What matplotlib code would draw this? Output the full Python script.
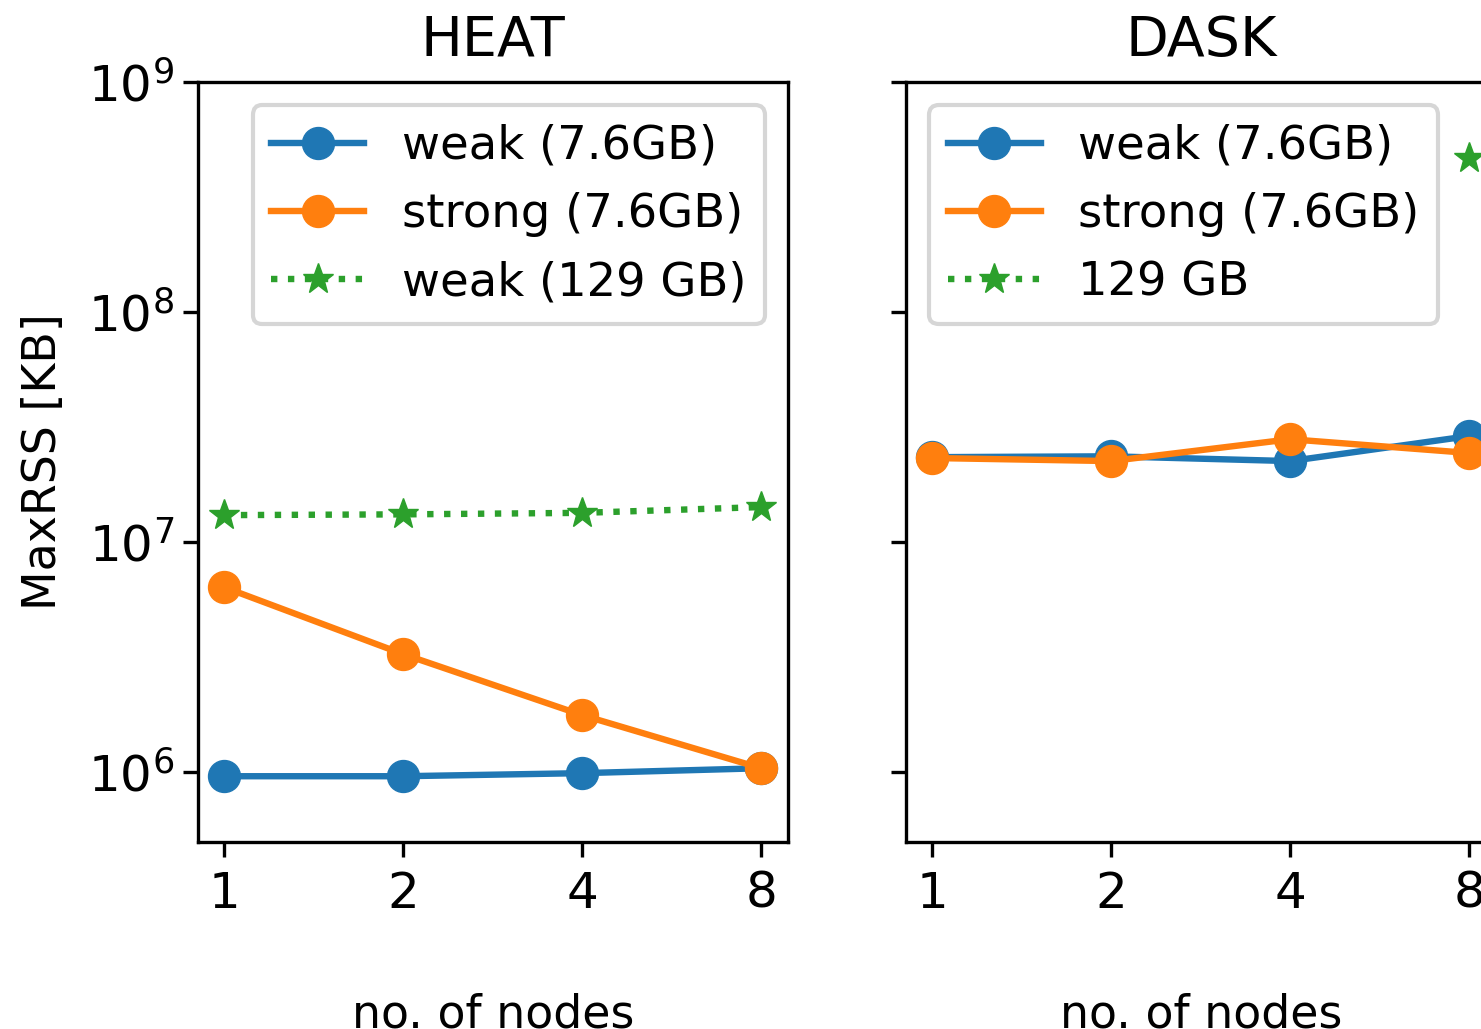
import numpy as np
import matplotlib
matplotlib.use("Agg")
import matplotlib.pyplot as plt

nodes = [1, 2, 4, 8]
node_labels = ["1", "2", "4", "8"]

heat_weak = [0.96e6, 0.96e6, 0.99e6, 1.04e6]
heat_strong = [6.37e6, 3.26e6, 1.77e6, 1.04e6]
heat_weak129 = [1.31e7, 1.32e7, 1.34e7, 1.42e7]

dask_weak = [2.34e7, 2.36e7, 2.25e7, 2.89e7]
dask_strong = [2.32e7, 2.25e7, 2.80e7, 2.44e7]
dask_129 = [np.nan, np.nan, np.nan, 4.68e8]

W, H = 1481, 1029
fig = plt.figure(figsize=(W / 100, H / 100), dpi=100)

ax_w = 590 / W
ax_h = 760 / H
ax_b = (H - 842) / H
ax1 = fig.add_axes([198 / W, ax_b, ax_w, ax_h])
ax2 = fig.add_axes([906 / W, ax_b, ax_w, ax_h], sharey=ax1)

lw = 4.6
ms = 23
tick_fs = 36
title_fs = 40
leg_fs = 33.5
lab_fs = 33

pos = np.arange(len(nodes))

def style(ax, title):
    ax.set_yscale("log")
    ax.set_ylim(4.97e5, 1e9)
    ax.set_xticks(pos)
    ax.set_xticklabels(node_labels)
    ax.set_xlim(-0.145, 3.15)
    ax.set_title(title, fontsize=title_fs, pad=19)
    ax.set_xlabel("no. of nodes", fontsize=lab_fs, labelpad=54)
    for s in ax.spines.values():
        s.set_linewidth(2.4)
    ax.tick_params(axis="both", labelsize=tick_fs, length=11, width=2.4)
    ax.tick_params(axis="x", pad=9)
    ax.tick_params(axis="y", pad=6)
    ax.tick_params(axis="y", which="minor", left=False)
    ax.set_yticks([1e6, 1e7, 1e8, 1e9])

ax1.plot(pos, heat_weak, "-o", color="#1f77b4", lw=lw, ms=ms, label="weak (7.6GB)")
ax1.plot(pos, heat_strong, "-o", color="#ff7f0e", lw=lw, ms=ms, label="strong (7.6GB)")
ax1.plot(pos, heat_weak129, ":*", color="#2ca02c", lw=lw, ms=ms, label="weak (129 GB)")
style(ax1, "HEAT")
ax1.set_ylabel("MaxRSS [KB]", fontsize=lab_fs, labelpad=16)
leg1 = ax1.legend(loc="upper right", fontsize=leg_fs, handlelength=2.0, borderaxespad=0.5)
leg1.get_frame().set_linewidth(3)

ax2.plot(pos, dask_weak, "-o", color="#1f77b4", lw=lw, ms=ms, label="weak (7.6GB)")
ax2.plot(pos, dask_strong, "-o", color="#ff7f0e", lw=lw, ms=ms, label="strong (7.6GB)")
ax2.plot(pos, dask_129, ":*", color="#2ca02c", lw=lw, ms=ms, label="129 GB")
style(ax2, "DASK")
ax2.tick_params(axis="y", labelleft=False)
leg2 = ax2.legend(loc="upper left", fontsize=leg_fs, handlelength=2.0, borderaxespad=0.5)
leg2.get_frame().set_linewidth(3)

fig.savefig("out.png", dpi=100)
